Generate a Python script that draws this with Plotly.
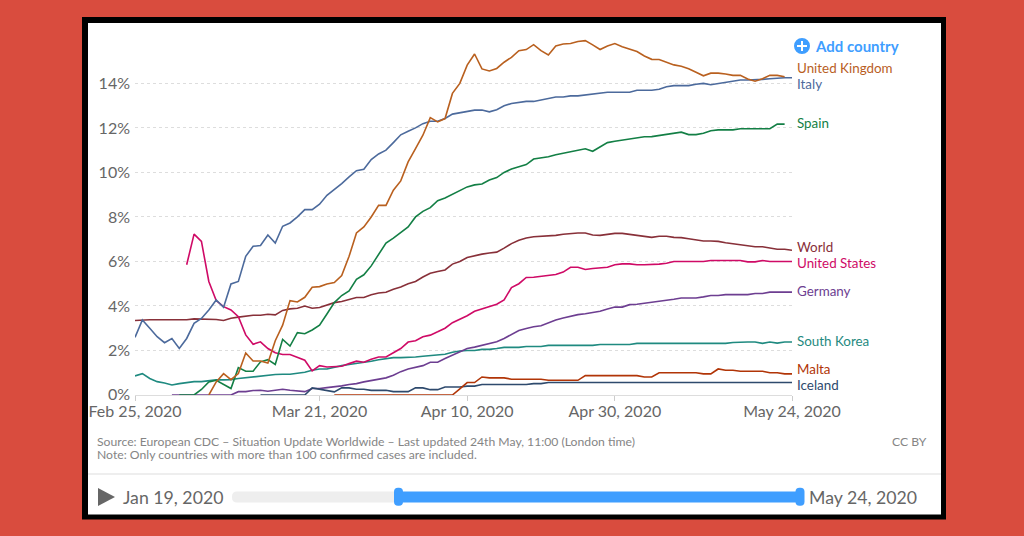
import pandas as pd
import plotly.graph_objects as go

dates = pd.date_range("2020-02-25", "2020-05-24").strftime("%Y-%m-%d").tolist()

world = [3.35, 3.38, 3.38, 3.38, 3.38, 3.38, 3.38, 3.38, 3.42, 3.42,
         3.42, 3.39, 3.35, 3.45, 3.5, 3.55, 3.58, 3.58, 3.63, 3.6,
         3.8, 3.87, 3.9, 4.0, 3.9, 3.93, 4.05, 4.15, 4.2, 4.3,
         4.38, 4.38, 4.5, 4.58, 4.62, 4.75, 4.85, 5.0, 5.1, 5.3,
         5.47, 5.55, 5.62, 5.88, 6.0, 6.18, 6.27, 6.33, 6.38, 6.42,
         6.6, 6.8, 6.95, 7.05, 7.11, 7.13, 7.13, 7.17, 7.22, 7.26,
         7.28, 7.28, 7.19, 7.17, 7.22, 7.26, 7.26, 7.22, 7.17, 7.13,
         7.08, 7.13, 7.13, 7.08, 7.07, 7.02, 6.96, 6.92, 6.92, 6.9,
         6.84, 6.8, 6.75, 6.7, 6.66, 6.66, 6.6, 6.55, 6.55, 6.5]

united_states = [None] * 7 + [5.85, 7.23, 6.9,
                 5.1, 4.24, 3.97, 3.82, 3.52, 2.7, 2.28, 2.39, 2.09, 1.9,
                 1.82, 1.82, 1.68, 1.56, 1.08, 1.32, 1.26, 1.29, 1.29, 1.41,
                 1.52, 1.47, 1.61, 1.71, 1.71, 1.9, 2.09, 2.38, 2.44, 2.62,
                 2.69, 2.84, 3.0, 3.25, 3.4, 3.56, 3.76, 3.86, 3.97, 4.08,
                 4.27, 4.83, 5.0, 5.28, 5.29, 5.32, 5.37, 5.41, 5.52, 5.74,
                 5.74, 5.64, 5.68, 5.7, 5.74, 5.85, 5.89, 5.89, 5.85, 5.85,
                 5.85, 5.88, 5.92, 6.0, 6.0, 6.0, 6.0, 6.0, 6.04, 6.04,
                 6.04, 6.04, 6.04, 5.98, 5.98, 6.04, 6.0, 6.0, 6.0, 6.0]

italy = [2.59, 3.37, 3.0, 2.62, 2.35, 2.54, 2.09, 2.54, 3.22, 3.44,
         3.82, 4.27, 3.94, 4.99, 5.1, 6.23, 6.68, 6.72, 7.19, 6.83,
         7.58, 7.73, 8.0, 8.33, 8.33, 8.57, 8.97, 9.23, 9.5, 9.8,
         10.08, 10.14, 10.58, 10.83, 11.0, 11.34, 11.69, 11.85, 12.0, 12.19,
         12.3, 12.3, 12.42, 12.62, 12.68, 12.73, 12.8, 12.8, 12.72, 12.82,
         12.99, 13.1, 13.15, 13.19, 13.19, 13.25, 13.3, 13.39, 13.39, 13.44,
         13.44, 13.48, 13.5, 13.54, 13.6, 13.6, 13.6, 13.6, 13.69, 13.69,
         13.69, 13.74, 13.85, 13.9, 13.9, 13.9, 13.96, 14.0, 13.94, 14.0,
         14.06, 14.1, 14.15, 14.15, 14.15, 14.18, 14.21, 14.24, 14.25, 14.25]

united_kingdom = [None] * 10 + [
    0, 0.59, 0.96, 0.69, 0.96, 1.89, 1.53, 1.53, 1.44, 2.44,
    3.14, 4.24, 4.18, 4.39, 4.84, 4.87, 4.99, 5.05, 5.37, 6.23,
    7.28, 7.55, 8.0, 8.52, 8.52, 9.2, 9.62, 10.47, 11.07, 11.67,
    12.46, 12.27, 12.42, 13.55, 14.0, 14.82, 15.32, 14.65, 14.56, 14.67,
    14.95, 15.17, 15.47, 15.52, 15.74, 15.47, 15.28, 15.68, 15.77, 15.79,
    15.88, 15.92, 15.73, 15.52, 15.68, 15.79, 15.65, 15.53, 15.43, 15.23,
    15.08, 15.07, 14.95, 14.83, 14.77, 14.66, 14.5, 14.34, 14.46, 14.46,
    14.42, 14.36, 14.36, 14.2, 14.1, 14.21, 14.36, 14.36, 14.3, None]

spain = [None] * 6 + [0, 0, 0, 0.25,
         0.59, 0.66, 0.47, 0.29, 1.23, 1.07, 1.07, 1.49, 1.59, 1.37,
         2.5, 2.2, 2.8, 2.75, 2.92, 3.14, 3.64, 4.15, 4.47, 4.68,
         5.2, 5.4, 5.8, 6.3, 6.83, 7.05, 7.28, 7.55, 8.0, 8.25,
         8.42, 8.73, 8.85, 9.02, 9.18, 9.35, 9.44, 9.48, 9.66, 9.77,
         10.0, 10.15, 10.25, 10.35, 10.6, 10.64, 10.7, 10.79, 10.85, 10.94,
         11.0, 11.06, 10.95, 11.15, 11.34, 11.4, 11.45, 11.49, 11.54, 11.6,
         11.61, 11.66, 11.72, 11.76, 11.81, 11.7, 11.7, 11.76, 11.87, 11.91,
         11.91, 11.91, 11.96, 11.96, 11.96, 11.96, 11.96, 12.17, 12.17, None]

south_korea = [0.86, 0.96, 0.74, 0.6, 0.54, 0.45, 0.51, 0.56, 0.6, 0.6,
               0.65, 0.68, 0.68, 0.69, 0.74, 0.78, 0.81, 0.83, 0.87, 0.92,
               0.93, 0.93, 0.98, 1.02, 1.11, 1.17, 1.17, 1.26, 1.32, 1.37,
               1.41, 1.46, 1.52, 1.58, 1.64, 1.68, 1.68, 1.68, 1.71, 1.74,
               1.77, 1.77, 1.83, 1.92, 1.98, 2.0, 2.0, 2.05, 2.05, 2.09,
               2.14, 2.14, 2.14, 2.18, 2.18, 2.18, 2.23, 2.23, 2.23, 2.23,
               2.23, 2.23, 2.23, 2.27, 2.27, 2.27, 2.27, 2.27, 2.32, 2.32,
               2.32, 2.32, 2.32, 2.32, 2.32, 2.32, 2.32, 2.32, 2.32, 2.32,
               2.32, 2.36, 2.38, 2.38, 2.38, 2.32, 2.38, 2.33, 2.38, 2.38]

germany = [None] * 5 + [0, 0, 0, 0, 0,
           0, 0, 0, 0, 0.15, 0.15, 0.2, 0.21, 0.17, 0.21,
           0.26, 0.21, 0.17, 0.15, 0.29, 0.29, 0.33, 0.36, 0.41, 0.47,
           0.51, 0.59, 0.66, 0.71, 0.77, 0.89, 1.05, 1.17, 1.26, 1.32,
           1.47, 1.47, 1.64, 1.79, 1.94, 2.09, 2.15, 2.24, 2.3, 2.39,
           2.54, 2.72, 2.9, 2.99, 3.07, 3.11, 3.25, 3.37, 3.46, 3.55,
           3.61, 3.65, 3.7, 3.76, 3.86, 3.95, 3.95, 4.06, 4.08, 4.12,
           4.17, 4.21, 4.26, 4.3, 4.36, 4.36, 4.36, 4.41, 4.47, 4.47,
           4.51, 4.51, 4.51, 4.51, 4.56, 4.56, 4.62, 4.62, 4.62, 4.62]

malta = [None] * 27 + [0, 0, 0,
         0, 0, 0, 0, 0, 0, 0, 0, 0, 0,
         0, 0, 0, 0, 0.28, 0.56, 0.56, 0.81, 0.77, 0.77,
         0.77, 0.71, 0.71, 0.71, 0.71, 0.71, 0.66, 0.66, 0.66, 0.66,
         0.66, 0.87, 0.87, 0.87, 0.87, 0.87, 0.87, 0.87, 0.87, 0.81,
         0.81, 1.0, 1.0, 1.0, 1.0, 1.0, 1.0, 0.95, 0.95, 1.17,
         1.11, 1.11, 1.07, 1.07, 1.07, 1.07, 1.0, 1.0, 0.95, 0.95]

iceland = [None] * 17 + [0, 0, 0,
           0, 0, 0, 0, 0.32, 0.26, 0.2, 0.14, 0.32, 0.32,
           0.26, 0.26, 0.21, 0.21, 0.21, 0.15, 0.15, 0.15, 0.32, 0.32,
           0.24, 0.24, 0.36, 0.36, 0.36, 0.4, 0.4, 0.47, 0.47, 0.47,
           0.47, 0.47, 0.47, 0.47, 0.51, 0.51, 0.56, 0.56, 0.56, 0.56,
           0.56, 0.56, 0.56, 0.56, 0.56, 0.56, 0.56, 0.56, 0.56, 0.56,
           0.56, 0.56, 0.56, 0.56, 0.56, 0.56, 0.56, 0.56, 0.56, 0.56,
           0.56, 0.56, 0.56, 0.56, 0.56, 0.56, 0.56, 0.56, 0.56, 0.56]

series = [
    ("World", world, "#883039"),
    ("South Korea", south_korea, "#1F8A80"),
    ("Germany", germany, "#6D3E91"),
    ("Iceland", iceland, "#2E4A6D"),
    ("Malta", malta, "#B13507"),
    ("United States", united_states, "#CF0A66"),
    ("Spain", spain, "#137F45"),
    ("Italy", italy, "#4C6A9C"),
    ("United Kingdom", united_kingdom, "#B9601F"),
]

# label heights in axis units, nudged apart like the original
label_y = {"United Kingdom": 14.69, "Italy": 13.99, "Spain": 12.23, "World": 6.63, "United States": 5.93,
           "Germany": 4.67, "South Korea": 2.43, "Malta": 1.15, "Iceland": 0.45}

y_ticks = [2, 4, 6, 8, 10, 12, 14]
y_labels = ["2%", "4%", "6%", "8%", "10%", "12%", "14%"]
x_ticks = ["2020-02-25", "2020-03-21", "2020-04-10", "2020-04-30", "2020-05-24"]
x_labels = ["Feb 25, 2020", "Mar 21, 2020", "Apr 10, 2020", "Apr 30, 2020", "May 24, 2020"]

# plot area in pixels, everything outside it is placed through these
LEFT, RIGHT, TOP, BOTTOM = 135, 792, 30, 394.7
BLUE = "#3F9EFF"
GREY = "#666666"


def px(x):
    return (x - LEFT) / (RIGHT - LEFT)


def py(y):
    return (BOTTOM - y) / (BOTTOM - TOP)


def rect(x0, y0, x1, y1, color):
    return dict(type="rect", xref="paper", yref="paper", x0=px(x0), x1=px(x1), y0=py(y0), y1=py(y1),
                fillcolor=color, line=dict(width=0), layer="below")


def pill(x0, y0, x1, y1, r, color):
    # rounded rectangle, plotly has no corner radius on rect shapes
    path = (f"M {px(x0 + r)} {py(y0)} L {px(x1 - r)} {py(y0)} Q {px(x1)} {py(y0)} {px(x1)} {py(y0 + r)} "
            f"L {px(x1)} {py(y1 - r)} Q {px(x1)} {py(y1)} {px(x1 - r)} {py(y1)} "
            f"L {px(x0 + r)} {py(y1)} Q {px(x0)} {py(y1)} {px(x0)} {py(y1 - r)} "
            f"L {px(x0)} {py(y0 + r)} Q {px(x0)} {py(y0)} {px(x0 + r)} {py(y0)} Z")
    return dict(type="path", xref="paper", yref="paper", path=path, fillcolor=color, line=dict(width=0), layer="below")


def text(x, y, s, size, color, anchor="left", bold=False):
    return dict(xref="paper", yref="paper", x=px(x), y=py(y), text=f"<b>{s}</b>" if bold else s, showarrow=False,
                xanchor=anchor, yanchor="middle", font=dict(family="Lato", size=size, color=color))


fig = go.Figure()
for name, values, color in series:
    fig.add_trace(go.Scatter(x=dates, y=values, mode="lines", name=name, cliponaxis=False,
                             line=dict(color=color, width=1.6)))

shapes = [
    rect(82, 17, 946, 519, "#000000"),
    rect(88, 23, 941, 514, "#FFFFFF"),
    rect(88, 473, 941, 474.5, "#E8E8E8"),
    pill(232, 491, 400, 502, 5, "#EEEEEE"),
    rect(398, 491, 799, 502, BLUE),
    pill(394, 487.3, 403, 505.3, 4, BLUE),
    pill(795.5, 487.3, 804.5, 505.3, 4, BLUE),
    dict(type="path", xref="paper", yref="paper", layer="below", fillcolor=GREY, line=dict(width=0),
         path=f"M {px(98)} {py(487.5)} L {px(115)} {py(496.5)} L {px(98)} {py(505.5)} Z"),
    dict(type="circle", xref="paper", yref="paper", x0=px(794), x1=px(810), y0=py(38), y1=py(54),
         fillcolor=BLUE, line=dict(width=0), layer="below"),
    rect(797, 45, 807, 47, "#FFFFFF"),
    rect(801, 41, 803, 51, "#FFFFFF"),
]
for s in shapes[-2:]:
    s["layer"] = "above"

annotations = [
    text(813, 46, "Add country", 15, BLUE, bold=True),
    text(95, 441, "Source: European CDC – Situation Update Worldwide – Last updated 24th May, 11:00 (London time)", 12.2, "#858585"),
    text(95, 454, "Note: Only countries with more than 100 confirmed cases are included.", 12.2, "#858585"),
    text(929, 441, "CC BY", 12.2, "#858585", anchor="right"),
    text(121, 497, "Jan 19, 2020", 17.7, GREY),
    text(807, 497, "May 24, 2020", 17.7, GREY),
    text(132, 393, "0%", 16, GREY, anchor="right"),
]
for name, values, color in series:
    annotations.append(dict(xref="paper", yref="y", x=px(794.5), y=label_y[name], text=name, showarrow=False,
                            xanchor="left", yanchor="middle", font=dict(family="Lato", size=13.4, color=color)))

fig.update_xaxes(
    type="date", range=[dates[0], dates[-1]], tickvals=x_ticks, ticktext=x_labels, ticks="outside", ticklen=5,
    tickcolor="#CCCCCC", showline=True, linecolor="#DDDDDD", linewidth=1, showgrid=False, zeroline=False,
    ticklabelstandoff=-3,
    tickfont=dict(family="Lato", size=16, color=GREY),
)
fig.update_yaxes(
    range=[0, (BOTTOM - TOP) / 22.24], tickvals=y_ticks, ticktext=y_labels, showgrid=True, griddash="3px,3px",
    gridcolor="#DDDDDD", gridwidth=1, zeroline=False, showline=False, ticks="", ticklabelstandoff=4,
    tickfont=dict(family="Lato", size=16, color=GREY),
)
fig.update_layout(
    width=1024, height=536, showlegend=False,
    margin=dict(l=LEFT, r=1024 - RIGHT, t=TOP, b=536 - BOTTOM, pad=0),
    paper_bgcolor="#D94C3E", plot_bgcolor="rgba(0,0,0,0)",
    shapes=shapes, annotations=annotations,
)

fig.write_html("out.html", config={"displayModeBar": False},
               post_script="document.body.style.margin='0';document.body.style.overflow='hidden';")
